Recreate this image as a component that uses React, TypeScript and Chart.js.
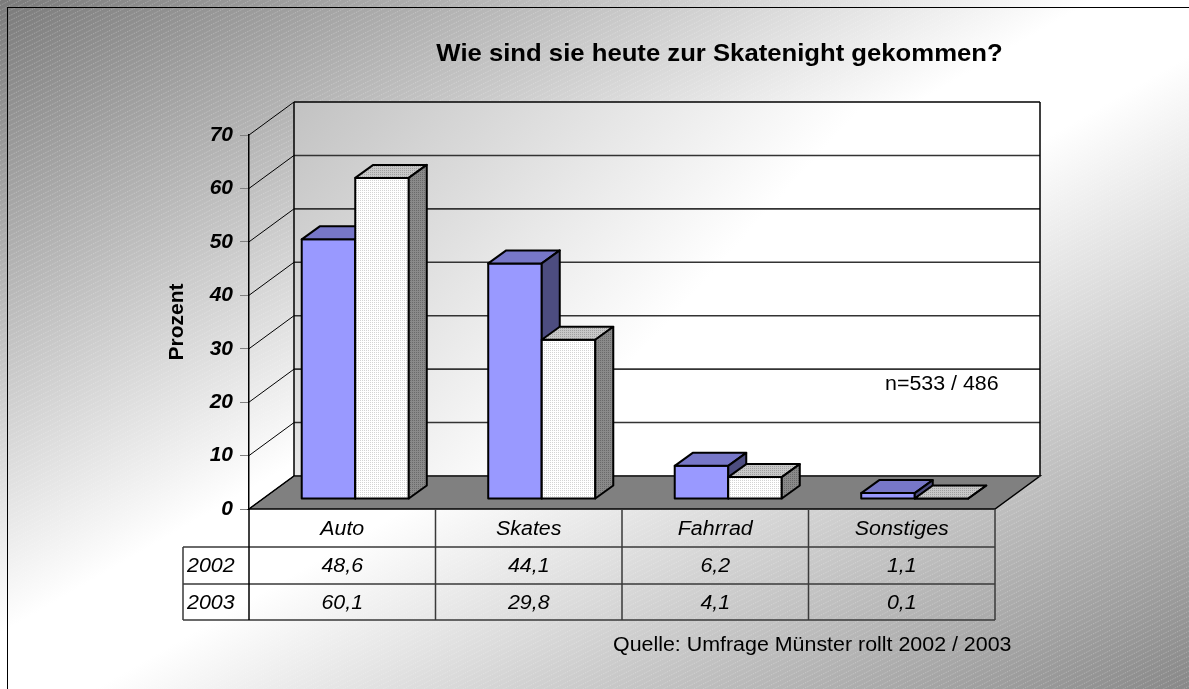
import React, { useEffect, useRef } from 'react';
import { Chart, registerables } from 'chart.js';

Chart.register(...registerables);

// ---------- data ----------
const categories = ['Auto', 'Skates', 'Fahrrad', 'Sonstiges'];
const seriesLabels = ['2002', '2003'];
const values2002 = [48.6, 44.1, 6.2, 1.1];
const values2003 = [60.1, 29.8, 4.1, 0.1];
const yTickValues = [0, 10, 20, 30, 40, 50, 60, 70];
const titleText = 'Wie sind sie heute zur Skatenight gekommen?';
const axisTitleText = 'Prozent';
const sampleNote = 'n=533 / 486';
const sourceNote = 'Quelle: Umfrage Münster rollt 2002 / 2003';

// ---------- layout / style ----------
const W = 1189;
const H = 689;
const FONT = 'Arial, "Liberation Sans", sans-serif';
const STRETCH = 1.07;
const DX = 45; // wall depth
const DY = -33;
const BOX_OX = 13; // bar offset into depth
const BOX_OY = -10;
const BOX_DX = 18; // bar depth
const BOX_DY = -13;

function dotPattern(ctx: CanvasRenderingContext2D, base: string, dot: string) {
  const c = document.createElement('canvas');
  c.width = 2;
  c.height = 2;
  const g = c.getContext('2d')!;
  g.fillStyle = base;
  g.fillRect(0, 0, 2, 2);
  g.fillStyle = dot;
  g.fillRect(0, 0, 1, 1);
  return ctx.createPattern(c, 'repeat')!;
}

function sText(
  ctx: CanvasRenderingContext2D,
  text: string,
  x: number,
  y: number,
  font: string,
  align: 'left' | 'center' | 'right',
  sx = STRETCH,
) {
  ctx.save();
  ctx.font = font;
  ctx.fillStyle = '#000';
  ctx.textBaseline = 'alphabetic';
  ctx.textAlign = 'left';
  const w = ctx.measureText(text).width * sx;
  let left = x;
  if (align === 'center') left = x - w / 2;
  else if (align === 'right') left = x - w;
  ctx.translate(left, y);
  ctx.scale(sx, 1);
  ctx.fillText(text, 0, 0);
  ctx.restore();
}

function bgGradient(ctx: CanvasRenderingContext2D) {
  const cx = W / 2;
  const cy = H / 2;
  const vx = H;
  const vy = W;
  const k = (cx * vx + cy * vy) / (vx * vx + vy * vy);
  const g = ctx.createLinearGradient(cx - k * vx, cy - k * vy, cx + k * vx, cy + k * vy);
  g.addColorStop(0, '#7a7a7a');
  g.addColorStop(0.46, '#ffffff');
  g.addColorStop(0.54, '#ffffff');
  g.addColorStop(1, '#888888');
  return g;
}

const backgroundPlugin = {
  id: 'bg3d',
  beforeDraw(chart: any) {
    const ctx: CanvasRenderingContext2D = chart.ctx;
    const a = chart.chartArea;
    ctx.save();
    ctx.fillStyle = bgGradient(ctx);
    ctx.fillRect(0, 0, W, H);
    // hatching outside back wall
    ctx.beginPath();
    ctx.rect(0, 0, W, H);
    ctx.moveTo(a.left + DX, a.top + DY);
    ctx.lineTo(a.left + DX, a.bottom + DY);
    ctx.lineTo(a.right + DX, a.bottom + DY);
    ctx.lineTo(a.right + DX, a.top + DY);
    ctx.closePath();
    ctx.clip('evenodd');
    ctx.strokeStyle = 'rgba(255,255,255,0.32)';
    ctx.lineWidth = 1;
    ctx.setLineDash([1, 1]);
    const slope = 0.5;
    for (let c = 0; c < H + W * slope + 10; c += 5) {
      ctx.beginPath();
      ctx.moveTo(0, c + 0.5);
      ctx.lineTo(W, c - W * slope + 0.5);
      ctx.stroke();
    }
    ctx.restore();
    // back wall fill
    ctx.save();
    const x0 = a.left + DX;
    const y0 = a.top + DY;
    const wg = ctx.createLinearGradient(x0, y0, x0 + 420, y0 + 380);
    wg.addColorStop(0, '#c2c2c2');
    wg.addColorStop(0.75, '#ffffff');
    wg.addColorStop(1, '#ffffff');
    ctx.fillStyle = wg;
    ctx.fillRect(x0, y0, a.right - a.left, a.bottom - a.top);
    ctx.restore();
  },
};

const wallsPlugin = {
  id: 'walls3d',
  beforeDatasetsDraw(chart: any) {
    const ctx: CanvasRenderingContext2D = chart.ctx;
    const a = chart.chartArea;
    const ys = chart.scales.y;
    ctx.save();
    // floor
    ctx.beginPath();
    ctx.moveTo(a.left, a.bottom);
    ctx.lineTo(a.right, a.bottom);
    ctx.lineTo(a.right + DX, a.bottom + DY);
    ctx.lineTo(a.left + DX, a.bottom + DY);
    ctx.closePath();
    ctx.fillStyle = '#808080';
    ctx.fill();
    ctx.strokeStyle = '#000';
    ctx.lineWidth = 1.5;
    ctx.stroke();
    // grid lines
    yTickValues.forEach((v) => {
      const y = ys.getPixelForValue(v);
      const top = v === yTickValues[yTickValues.length - 1];
      ctx.strokeStyle = top ? '#000' : '#333';
      ctx.lineWidth = top ? 1.5 : 1.6;
      ctx.beginPath();
      ctx.moveTo(a.left + DX, y + DY);
      ctx.lineTo(a.right + DX, y + DY);
      ctx.stroke();
      ctx.strokeStyle = '#000';
      ctx.lineWidth = 1;
      ctx.beginPath();
      ctx.moveTo(a.left, y);
      ctx.lineTo(a.left + DX, y + DY);
      ctx.stroke();
    });
    // wall edges
    ctx.strokeStyle = '#000';
    ctx.lineWidth = 1.5;
    ctx.beginPath();
    ctx.moveTo(a.left + DX, a.bottom + DY);
    ctx.lineTo(a.left + DX, a.top + DY);
    ctx.moveTo(a.right + DX, a.bottom + DY);
    ctx.lineTo(a.right + DX, a.top + DY);
    ctx.stroke();
    ctx.restore();
  },
};

const barsPlugin = {
  id: 'bars3d',
  afterDatasetsDraw(chart: any) {
    const ctx: CanvasRenderingContext2D = chart.ctx;
    const styles = [
      { front: '#9999ff', top: '#7777c8', side: '#4d4d80' },
      {
        front: dotPattern(ctx, '#ffffff', '#d4d4d4'),
        top: dotPattern(ctx, '#c8c8c8', '#a0a0a0'),
        side: dotPattern(ctx, '#8a8a8a', '#6a6a6a'),
      },
    ];
    const metas = [chart.getDatasetMeta(0), chart.getDatasetMeta(1)];
    ctx.save();
    ctx.lineWidth = 2;
    ctx.lineJoin = 'round';
    ctx.strokeStyle = '#000';
    for (let i = 0; i < categories.length; i++) {
      for (let d = 0; d < metas.length; d++) {
        const el = metas[d].data[i];
        const p = el.getProps(['x', 'y', 'base', 'width'], true);
        const x0 = p.x - p.width / 2 + BOX_OX;
        const x1 = p.x + p.width / 2 + BOX_OX;
        const yt = p.y + BOX_OY;
        const yb = p.base + BOX_OY;
        const st = styles[d];
        // front
        ctx.beginPath();
        ctx.rect(x0, yt, x1 - x0, yb - yt);
        ctx.fillStyle = st.front as any;
        ctx.fill();
        ctx.stroke();
        // top
        ctx.beginPath();
        ctx.moveTo(x0, yt);
        ctx.lineTo(x1, yt);
        ctx.lineTo(x1 + BOX_DX, yt + BOX_DY);
        ctx.lineTo(x0 + BOX_DX, yt + BOX_DY);
        ctx.closePath();
        ctx.fillStyle = st.top as any;
        ctx.fill();
        ctx.stroke();
        // side
        ctx.beginPath();
        ctx.moveTo(x1, yt);
        ctx.lineTo(x1 + BOX_DX, yt + BOX_DY);
        ctx.lineTo(x1 + BOX_DX, yb + BOX_DY);
        ctx.lineTo(x1, yb);
        ctx.closePath();
        ctx.fillStyle = st.side as any;
        ctx.fill();
        ctx.stroke();
      }
    }
    ctx.restore();
  },
};

const fmt = (v: number) => v.toFixed(1).replace('.', ',');

const tablePlugin = {
  id: 'table3d',
  afterDraw(chart: any) {
    const ctx: CanvasRenderingContext2D = chart.ctx;
    const a = chart.chartArea;
    const xs = chart.scales.x;
    const colW = (a.right - a.left) / categories.length;
    const r0 = a.bottom;
    const r1 = r0 + 38;
    const r2 = r1 + 37;
    const r3 = r2 + 36;
    const labelLeft = 183;
    ctx.save();
    ctx.strokeStyle = '#3a3a3a';
    ctx.lineWidth = 1.5;
    ctx.beginPath();
    [r1, r2, r3].forEach((y) => {
      ctx.moveTo(labelLeft, y);
      ctx.lineTo(a.right, y);
    });
    ctx.moveTo(labelLeft, r1);
    ctx.lineTo(labelLeft, r3);
    for (let i = 1; i <= categories.length; i++) {
      const x = a.left + i * colW;
      ctx.moveTo(x, r0);
      ctx.lineTo(x, r3);
    }
    ctx.stroke();
    ctx.strokeStyle = '#000';
    ctx.beginPath();
    ctx.moveTo(a.left, r0);
    ctx.lineTo(a.left, r3);
    ctx.stroke();

    const f = `italic 20px ${FONT}`;
    const rows = [values2002, values2003];
    categories.forEach((c, i) => {
      const cx = xs.getPixelForValue(i);
      sText(ctx, c, cx, r0 + 26, f, 'center');
      rows.forEach((vals, r) => {
        sText(ctx, fmt(vals[i]), cx, (r === 0 ? r1 : r2) + 25, f, 'center');
      });
    });
    seriesLabels.forEach((s, r) => {
      sText(ctx, s, labelLeft + 4, (r === 0 ? r1 : r2) + 25, f, 'left');
    });

    // titles and notes
    sText(ctx, titleText, 719.5, 61, `bold 24px ${FONT}`, 'center');
    sText(ctx, sampleNote, 885, 390, `20px ${FONT}`, 'left');
    sText(ctx, sourceNote, 613, 651, `20px ${FONT}`, 'left');

    // outer frame
    ctx.strokeStyle = '#000';
    ctx.lineWidth = 1;
    ctx.strokeRect(7.5, 7.5, W, H);
    ctx.restore();
  },
};

export default function App() {
  const ref = useRef<HTMLCanvasElement>(null);
  useEffect(() => {
    document.body.style.margin = '0';
    const canvas = ref.current!;
    const chart = new Chart(canvas, {
      type: 'bar',
      data: {
        labels: categories,
        datasets: [
          { label: seriesLabels[0], data: values2002, backgroundColor: 'rgba(0,0,0,0)', borderWidth: 0 },
          { label: seriesLabels[1], data: values2003, backgroundColor: 'rgba(0,0,0,0)', borderWidth: 0 },
        ],
      },
      options: {
        animation: false,
        responsive: false,
        devicePixelRatio: 1,
        events: [],
        layout: { padding: { left: 155, top: 135, right: 194, bottom: 180 } },
        datasets: { bar: { categoryPercentage: 0.574, barPercentage: 1 } },
        plugins: { legend: { display: false }, tooltip: { enabled: false }, title: { display: false } },
        scales: {
          x: { type: 'category', display: false, offset: true },
          y: {
            type: 'linear',
            position: 'left',
            min: 0,
            max: 70,
            afterFit: (s: any) => {
              s.width = 94;
            },
            afterBuildTicks: (s: any) => {
              s.ticks = yTickValues.map((v) => ({ value: v }));
            },
            ticks: {
              color: '#000',
              padding: 7,
              font: { family: FONT, size: 21, style: 'italic', weight: 'bold' },
            },
            grid: { drawOnChartArea: false, drawTicks: true, tickLength: 9, tickColor: '#808080', tickWidth: 1 },
            border: { display: true, color: '#000', width: 1.5 },
            title: {
              display: true,
              text: axisTitleText,
              color: '#000',
              padding: { top: 10, bottom: 0 },
              font: { family: FONT, size: 21, weight: 'bold' },
            },
          },
        },
      },
      plugins: [backgroundPlugin, wallsPlugin, barsPlugin, tablePlugin],
    });
    return () => chart.destroy();
  }, []);
  return <canvas ref={ref} width={W} height={H} style={{ display: 'block', width: W, height: H }} />;
}
